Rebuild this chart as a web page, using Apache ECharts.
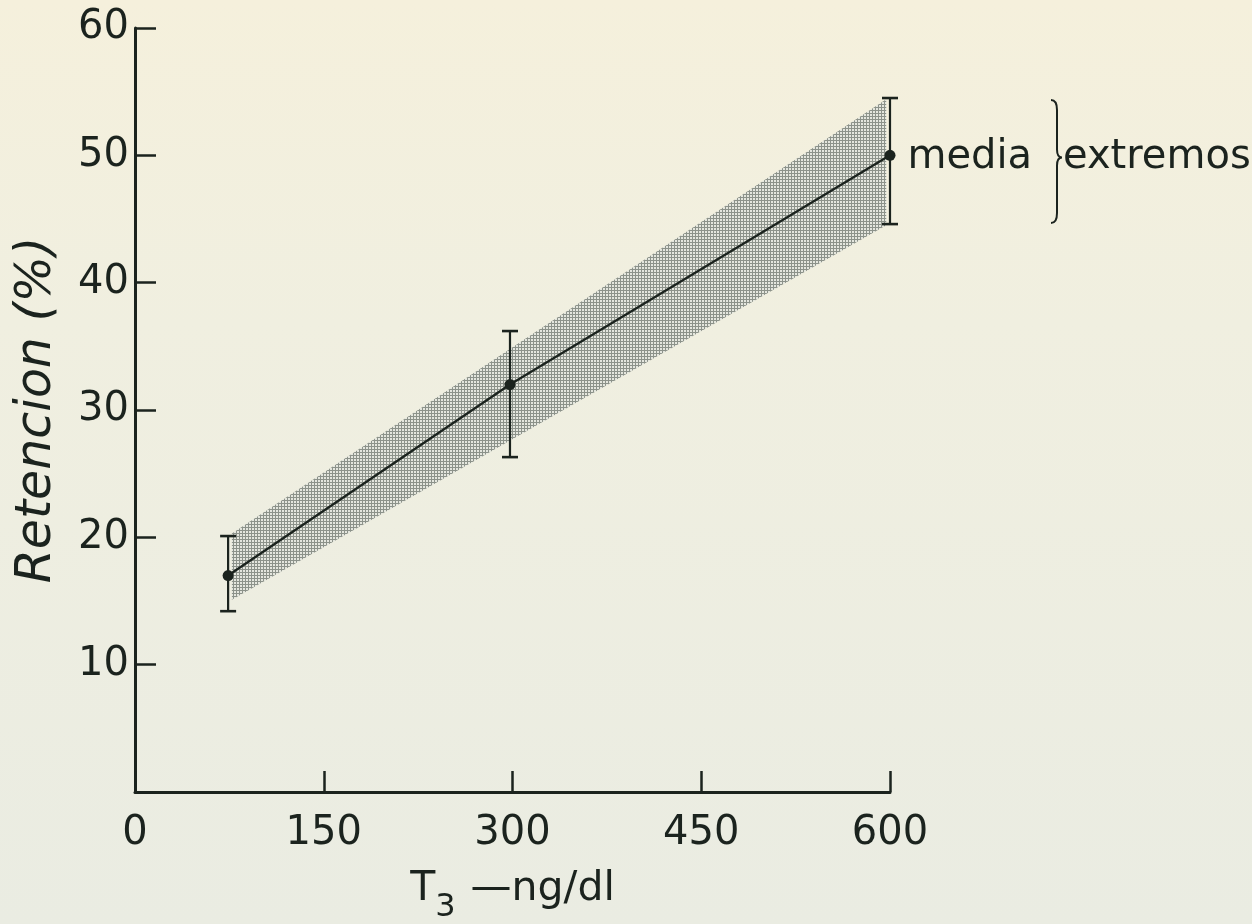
<!DOCTYPE html>
<html><head><meta charset="utf-8">
<script src="https://cdn.jsdelivr.net/npm/echarts@6/dist/echarts.min.js"></script>
<style>
html,body{margin:0;padding:0;}
body{background:linear-gradient(180deg,#f5f0dc 0%,#f0efe0 35%,#eaece2 100%);}
#c{width:1252px;height:924px;}
</style>
</head><body><div id="c"></div>
<script>
// ---- data ----
const xTickLabels = [0, 150, 300, 450, 600];
const yTickLabels = [10, 20, 30, 40, 50, 60];
const dose = [74, 298, 600];          // T3 ng/dl
const meanRet = [17.0, 32.0, 50.0];   // media
const minRet = [14.2, 26.3, 44.6];    // extremos (min)
const maxRet = [20.1, 36.2, 54.5];    // extremos (max)
const bandX = [77, 597];
const bandLow = [15.1, 44.5];
const bandHigh = [20.3, 54.4];
const meanLabel = 'media';
const rangeLabel = 'extremos';
const yName = 'Retencion (%)';

// ---- styles ----
const ink = '#1b231e';
const font = 'DejaVu Sans';
const pc = document.createElement('canvas');
pc.width = 3; pc.height = 3;
const g = pc.getContext('2d');
g.fillStyle = '#e4e6de'; g.fillRect(0, 0, 3, 3);
g.fillStyle = '#8c928a'; g.fillRect(2, 0, 1, 3); g.fillRect(0, 2, 3, 1);

const chart = echarts.init(document.getElementById('c'), null, {renderer: 'canvas'});
const last = dose.length - 1;

chart.setOption({
  backgroundColor: 'transparent',
  animation: false,
  grid: {left: 135, top: 28, width: 755, height: 764, containLabel: false, outerBoundsMode: 'none'},
  xAxis: {
    type: 'value', min: 0, max: 600, interval: 150,
    name: '{t|T}{s|3}{t| \u2014ng/dl}', nameLocation: 'middle', nameGap: 77,
    nameTextStyle: {
      fontFamily: font, fontSize: 40, color: ink,
      rich: {
        t: {fontFamily: font, fontSize: 41, color: ink, lineHeight: 44, verticalAlign: 'top'},
        s: {fontFamily: font, fontSize: 32, color: ink, lineHeight: 78, verticalAlign: 'middle', padding: [0, 2, 0, 0]}
      }
    },
    axisLine: {show: true, lineStyle: {color: ink, width: 3}},
    axisTick: {show: true, inside: true, length: 21, lineStyle: {color: ink, width: 2.5}},
    axisLabel: {fontFamily: font, fontSize: 40, color: ink, margin: 22,
      formatter: v => xTickLabels.includes(v) ? String(v) : ''},
    splitLine: {show: false}
  },
  yAxis: {
    type: 'value', min: 0, max: 60, interval: 10,
    name: yName, nameLocation: 'middle', nameGap: 73, nameRotate: 90,
    nameTextStyle: {fontFamily: font, fontSize: 49, fontStyle: 'italic', color: ink},
    axisLine: {show: true, lineStyle: {color: ink, width: 3}},
    axisTick: {show: true, inside: true, length: 21, lineStyle: {color: ink, width: 2.5}},
    axisLabel: {fontFamily: font, fontSize: 40, color: ink, margin: 6,
      formatter: v => yTickLabels.includes(v) ? String(v) : ''},
    splitLine: {show: false}
  },
  series: [
    {
      type: 'custom', name: 'band', z: 1, silent: true,
      data: bandX.map((x, i) => [x, bandLow[i], bandHigh[i]]),
      renderItem: function (params, api) {
        if (params.dataIndex !== 0) return;
        const pts = [];
        for (let i = 0; i < bandX.length; i++) pts.push(api.coord([bandX[i], bandHigh[i]]));
        for (let i = bandX.length - 1; i >= 0; i--) pts.push(api.coord([bandX[i], bandLow[i]]));
        return {type: 'polygon', shape: {points: pts}, style: {fill: {image: pc, repeat: 'repeat'}}};
      }
    },
    {
      type: 'custom', name: 'extremos', z: 3, silent: true,
      data: dose.map((x, i) => [x, minRet[i], maxRet[i]]),
      renderItem: function (params, api) {
        const x = api.value(0), lo = api.value(1), hi = api.value(2);
        const p1 = api.coord([x, hi]), p2 = api.coord([x, lo]);
        const w = 8;
        const st = {stroke: ink, lineWidth: 2.2};
        return {type: 'group', children: [
          {type: 'line', shape: {x1: p1[0], y1: p1[1], x2: p2[0], y2: p2[1]}, style: st},
          {type: 'line', shape: {x1: p1[0] - w, y1: p1[1], x2: p1[0] + w, y2: p1[1]}, style: {stroke: ink, lineWidth: 2.6}},
          {type: 'line', shape: {x1: p2[0] - w, y1: p2[1], x2: p2[0] + w, y2: p2[1]}, style: {stroke: ink, lineWidth: 2.6}}
        ]};
      }
    },
    {
      type: 'line', name: 'media', z: 4,
      data: dose.map((x, i) => [x, meanRet[i]]),
      symbol: 'circle', symbolSize: 11,
      itemStyle: {color: ink},
      lineStyle: {color: ink, width: 2.3},
      label: {
        show: true, position: 'right', distance: 12,
        fontFamily: font, fontSize: 40, color: ink, offset: [0, 2],
        formatter: p => p.dataIndex === last ? meanLabel : ''
      }
    },
    {
      type: 'custom', name: 'legend', z: 5, silent: true,
      data: [[dose[last], minRet[last], maxRet[last], meanRet[last]]],
      renderItem: function (params, api) {
        const x = api.value(0);
        const pt = api.coord([x, api.value(1)]);
        const yTop = api.coord([x, api.value(2)])[1] + 2;
        const yBot = pt[1] - 1;
        const yMid = api.coord([x, api.value(3)])[1];
        const ym = (yTop + yBot) / 2 - 4;
        const x0 = pt[0] + 161;
        const d = 'M' + x0 + ' ' + yTop +
          ' Q' + (x0 + 6) + ' ' + yTop + ' ' + (x0 + 6) + ' ' + (yTop + 10) +
          ' L' + (x0 + 6) + ' ' + (ym - 8) +
          ' Q' + (x0 + 6) + ' ' + ym + ' ' + (x0 + 11) + ' ' + ym +
          ' Q' + (x0 + 6) + ' ' + ym + ' ' + (x0 + 6) + ' ' + (ym + 8) +
          ' L' + (x0 + 6) + ' ' + (yBot - 10) +
          ' Q' + (x0 + 6) + ' ' + yBot + ' ' + x0 + ' ' + yBot;
        return {type: 'group', children: [
          {type: 'path', shape: {pathData: d}, style: {stroke: ink, lineWidth: 2, fill: null}},
          {type: 'text', x: x0 + 12, y: yMid + 2,
            style: {text: rangeLabel, fontFamily: font, fontSize: 40, fill: ink, align: 'left', verticalAlign: 'middle'}}
        ]};
      }
    }
  ]
});
</script>
</body></html>
